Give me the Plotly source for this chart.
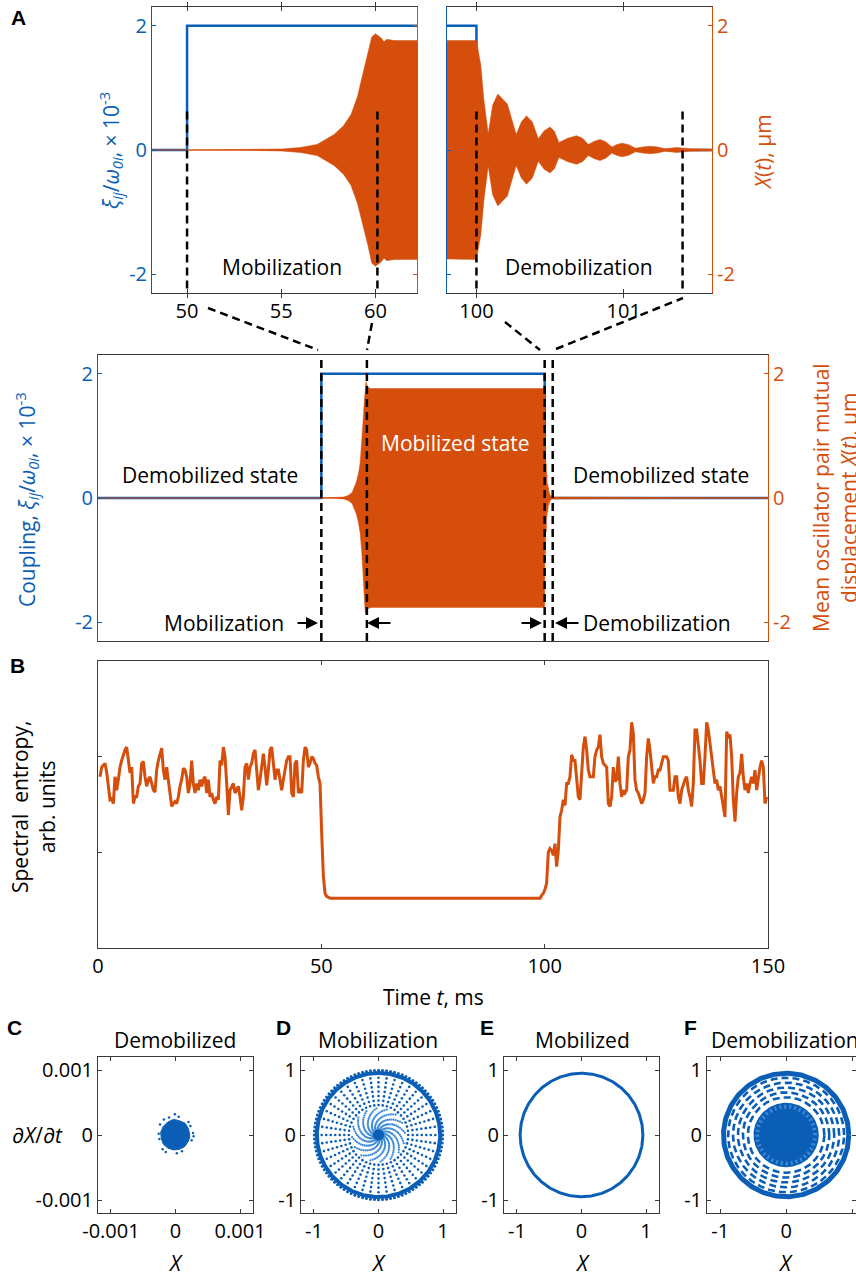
import numpy as np
import plotly.graph_objects as go

BLUE = "#0A5EB5"
LBLUE = "#3d8bd6"
ORANGE = "#D54E0B"
DARK = "#3a3a3a"
FONT = "Open Sans"

# ---------------- Panel A data ----------------
coupling_t = [0, 50, 50, 100, 100, 150]
coupling_v = [0, 0, 2, 2, 0, 0]

env_t = [50.0, 53.0, 55.0, 56.0, 56.9, 57.8, 58.3, 58.7, 59.05, 59.3, 59.6, 59.8, 60.0, 60.3, 60.45,
         60.6, 61.0,
         100.0, 100.03, 100.05, 100.08, 100.11, 100.145, 100.21, 100.27, 100.305, 100.34, 100.38,
         100.42, 100.46, 100.50, 100.53, 100.56, 100.62, 100.68, 100.72, 100.76, 100.80, 100.84,
         100.88, 100.92, 100.955, 100.99, 101.035, 101.08, 101.13, 101.18, 101.23, 101.28, 101.36,
         101.45, 101.6, 150.0]
env_a = [0.0, 0.004, 0.016, 0.04, 0.09, 0.25, 0.39, 0.57, 0.87, 1.19, 1.54, 1.82, 1.87, 1.80, 1.74,
         1.78, 1.76,
         1.76, 1.36, 0.82, 0.26, 0.72, 0.90, 0.74, 0.25, 0.45, 0.55, 0.45,
         0.18, 0.31, 0.37, 0.30, 0.12, 0.19, 0.23, 0.19, 0.09, 0.14, 0.17,
         0.13, 0.05, 0.09, 0.11, 0.085, 0.03, 0.05, 0.06, 0.05, 0.02, 0.04,
         0.02, 0.015, 0.0]

inset_dash_left = [50.0, 60.1]
inset_dash_right = [100.0, 101.4]
main_dash = [50.0, 60.2, 100.0, 101.8]

# ---------------- Panel B data ----------------
ent1_v = [1.79, 1.89, 1.91, 1.93, 1.84, 1.72, 1.55, 1.56, 1.51, 1.79, 1.65, 1.76, 1.89, 1.96, 2.03,
          2.07, 2.10, 1.96, 1.83, 1.89, 1.51, 1.58, 1.58, 1.69, 1.72, 1.93, 1.95, 1.79, 1.69, 1.76,
          1.79, 1.72, 1.65, 1.63, 1.86, 1.96, 2.03, 2.09, 1.86, 1.76, 1.89, 1.76, 1.58, 1.48, 1.51,
          1.53, 1.51, 1.58, 1.69, 1.76, 1.88, 1.86, 1.79, 1.62, 1.72, 1.96, 1.72, 1.62, 1.72, 1.65,
          1.76, 1.69, 1.76, 1.79, 1.62, 1.76, 1.58, 1.62, 1.55, 1.51, 1.58, 1.55, 1.96, 1.91, 2.10,
          2.00, 1.72, 1.39, 1.65, 1.69, 1.72, 1.62, 1.65, 1.69, 1.58, 1.44, 1.58, 1.89, 1.93, 1.76,
          1.89, 1.93, 2.03, 2.07, 1.86, 1.65, 1.76, 1.93, 2.03, 1.89, 1.70, 1.86, 2.07, 2.10, 1.89,
          1.76, 1.86, 1.86, 1.76, 1.65, 1.76, 1.86, 1.96, 2.00, 2.00, 1.62, 1.58, 1.93, 1.96, 1.62,
          1.65, 1.62, 1.96, 2.10, 2.07, 1.89, 1.93, 2.00, 1.98, 1.93, 1.91, 1.79, 1.72, 1.20, 0.75,
          0.57, 0.54]
ent1_t = np.linspace(0.45, 51.2, len(ent1_v))
ent_flat_t = [52.0, 99.3]
ent_flat_v = [0.52, 0.52]
ent3_v = [0.52, 0.55, 0.57, 0.61, 0.68, 1.00, 1.04, 1.02, 0.97, 1.09, 0.85, 1.02, 1.37, 1.44, 1.55,
          1.49, 1.72, 1.72, 1.79, 2.02, 1.96, 1.96, 1.76, 1.58, 1.55, 1.89, 2.10, 2.21, 2.07, 1.86,
          1.79, 1.79, 1.79, 2.00, 2.07, 2.10, 2.23, 2.00, 1.93, 1.91, 1.89, 1.51, 1.48, 1.58, 1.89,
          1.74, 1.76, 2.00, 1.72, 1.58, 1.65, 1.62, 1.65, 2.00, 2.07, 2.36, 2.24, 1.76, 1.65, 1.62,
          1.55, 1.51, 1.55, 1.62, 2.00, 2.19, 2.07, 1.89, 1.72, 1.79, 1.79, 1.86, 1.86, 1.93, 2.00,
          2.00, 2.00, 1.96, 1.65, 1.65, 1.65, 1.79, 1.79, 1.58, 1.51, 1.65, 1.72, 1.76, 1.79, 1.65,
          1.58, 1.48, 1.72, 2.28, 2.28, 2.14, 1.96, 1.72, 1.72, 2.00, 2.36, 2.28, 2.14, 1.96, 1.86,
          1.72, 1.76, 1.65, 1.69, 1.58, 1.51, 1.37, 2.26, 2.21, 2.23, 2.00, 1.55, 1.32, 1.62, 1.79,
          1.83, 2.03, 1.79, 1.65, 1.72, 1.62, 1.72, 1.79, 1.72, 1.86, 1.65, 1.79, 1.89, 1.96, 1.89,
          1.51, 1.58]
ent3_t = np.linspace(98.95, 149.7, len(ent3_v))
entropy_t = list(ent1_t) + ent_flat_t + list(ent3_t)
entropy_v = ent1_v + ent_flat_v + ent3_v

# ---------------- Panels C-F data ----------------
c_core_x = [0.22, 0.20, 0.15, 0.06, -0.03, -0.12, -0.19, -0.23, -0.22, -0.19, -0.12, -0.03, 0.06, 0.14, 0.19, 0.22]
c_core_y = [0.00, 0.10, 0.18, 0.22, 0.24, 0.20, 0.13, 0.04, -0.05, -0.14, -0.20, -0.23, -0.22, -0.18, -0.11, -0.04]
c_out_x = [-0.26, -0.25, 0.27, 0.25, -0.01, 0.05, -0.10, -0.20, -0.15, 0.10, 0.20, 0.23, -0.24, 0.02, 0.28, -0.18]
c_out_y = [0.02, -0.06, 0.03, -0.08, 0.32, 0.28, 0.27, -0.22, -0.26, -0.25, 0.20, 0.14, 0.16, -0.28, -0.02, 0.24]

d_spoke_count = 44
d_ring_radii = [0.46, 0.53, 0.60, 0.67, 0.74, 0.81, 0.88]
d_arm_count = 16
d_arm_radii = [0.07, 0.09, 0.11, 0.13, 0.15, 0.17, 0.19, 0.21, 0.23, 0.25, 0.27, 0.29, 0.31, 0.33, 0.35, 0.37, 0.39, 0.41]
d_twist = 4.0
d_core_r = 0.08
d_ring_r = 0.955
e_circle_r = 0.95
f_rings = [0.58, 0.655, 0.73, 0.805, 0.88]
f_core_r = 0.48
f_hatch_r = 0.44
f_outer_r = 0.95

def px(x):
    return x / 856.0

def py(y):
    return 1.0 - y / 1280.0

fig = go.Figure()
ang = np.linspace(0, 2 * np.pi, 361)

fx = env_t + env_t[::-1]
fy = env_a + [-a for a in env_a[::-1]]
for xa_, yb, yo in [("x", "y", "y2"), ("x2", "y3", "y4"), ("x3", "y5", "y6")]:
    fig.add_trace(go.Scatter(x=coupling_t, y=coupling_v, mode="lines", line=dict(color=BLUE, width=2.5), xaxis=xa_, yaxis=yb))
    fig.add_trace(go.Scatter(x=fx, y=fy, fill="toself", fillcolor=ORANGE, mode="lines", line=dict(color=ORANGE, width=0.5), xaxis=xa_, yaxis=yo))
    fig.add_trace(go.Scatter(x=[0, 150], y=[0, 0], mode="lines", line=dict(color=ORANGE, width=1), xaxis=xa_, yaxis=yo))

# ---- B
fig.add_trace(go.Scatter(x=entropy_t, y=entropy_v, mode="lines", line=dict(color=ORANGE, width=3), xaxis="x4", yaxis="y7"))

# ---- C
fig.add_trace(go.Scatter(x=[v * 1e-3 for v in c_core_x + c_core_x[:1]], y=[v * 1e-3 for v in c_core_y + c_core_y[:1]],
                         fill="toself", fillcolor=BLUE, mode="lines", line=dict(color=BLUE, width=1), xaxis="x5", yaxis="y8"))
fig.add_trace(go.Scatter(x=[v * 1e-3 for v in c_out_x], y=[v * 1e-3 for v in c_out_y], mode="markers",
                         marker=dict(color=BLUE, size=2.5), xaxis="x5", yaxis="y8"))

# ---- D: spokes of dots, inner swirl, centre and rim
dxs, dys = [], []
for i in range(d_spoke_count):
    th = 2 * np.pi * i / d_spoke_count
    for r in d_ring_radii:
        dxs.append(r * np.cos(th))
        dys.append(r * np.sin(th))
fig.add_trace(go.Scatter(x=dxs, y=dys, mode="markers", marker=dict(color=BLUE, size=2.6), xaxis="x6", yaxis="y9"))
sxs, sys_ = [], []
for i in range(d_arm_count):
    th0 = 2 * np.pi * i / d_arm_count
    for r in d_arm_radii:
        th = th0 + d_twist * (0.43 - r)
        sxs.append(r * np.cos(th))
        sys_.append(r * np.sin(th))
fig.add_trace(go.Scatter(x=sxs, y=sys_, mode="markers", marker=dict(color=LBLUE, size=2.3), xaxis="x6", yaxis="y9"))
fig.add_trace(go.Scatter(x=d_core_r * np.cos(ang), y=d_core_r * np.sin(ang), fill="toself", fillcolor=BLUE, mode="lines",
                         line=dict(color=BLUE, width=1), xaxis="x6", yaxis="y9"))
fig.add_trace(go.Scatter(x=d_ring_r * np.cos(ang), y=d_ring_r * np.sin(ang), mode="lines", line=dict(color=BLUE, width=4), xaxis="x6", yaxis="y9"))
tang = np.linspace(0, 2 * np.pi, 100, endpoint=False)
fig.add_trace(go.Scatter(x=0.995 * np.cos(tang), y=0.995 * np.sin(tang), mode="markers", marker=dict(color=BLUE, size=3), xaxis="x6", yaxis="y9"))

# ---- E circle
fig.add_trace(go.Scatter(x=e_circle_r * np.cos(ang), y=e_circle_r * np.sin(ang), mode="lines", line=dict(color=BLUE, width=3), xaxis="x7", yaxis="y10"))

# ---- F
fig.add_trace(go.Scatter(x=f_outer_r * np.cos(ang), y=f_outer_r * np.sin(ang), mode="lines", line=dict(color=BLUE, width=5), xaxis="x8", yaxis="y11"))
for r in f_rings:
    fig.add_trace(go.Scatter(x=r * np.cos(ang), y=r * np.sin(ang), mode="lines", line=dict(color=BLUE, width=2.6, dash="7px,4px"), xaxis="x8", yaxis="y11"))
fig.add_trace(go.Scatter(x=f_core_r * np.cos(ang), y=f_core_r * np.sin(ang), fill="toself", fillcolor=BLUE, mode="lines", line=dict(color=BLUE, width=2), xaxis="x8", yaxis="y11"))
fig.add_trace(go.Scatter(x=f_hatch_r * np.cos(ang), y=f_hatch_r * np.sin(ang), mode="lines", line=dict(color=LBLUE, width=4, dash="2px,3px"), xaxis="x8", yaxis="y11"))

# ---------------- axes ----------------
tf = dict(family=FONT, size=20, color="black")
tf_b = dict(family=FONT, size=20, color=BLUE)
tf_o = dict(family=FONT, size=20, color=ORANGE)
tf_s = dict(family=FONT, size=20, color="black")

def fmt(v):
    return ("%g" % v).replace("\u2212", "-")

def xax(domain, rng, anchor, tickvals=None, show=True, font=tf):
    d = dict(domain=domain, range=rng, anchor=anchor, showgrid=False, zeroline=False, showline=True,
             linecolor=DARK, linewidth=1, mirror="allticks", ticks="inside", ticklen=4, tickcolor=DARK,
             tickfont=font, fixedrange=True, automargin=False)
    if tickvals is None:
        d.update(ticks="", showticklabels=False, mirror=True)
    else:
        d.update(tickvals=tickvals, ticktext=[fmt(v) for v in tickvals], showticklabels=show)
    return d

def yax(domain, rng, anchor, tickvals, color, font, side="left", show=True, overlay=None, mirror=False):
    d = dict(domain=domain, range=rng, anchor=anchor, side=side, showgrid=False, zeroline=False,
             showline=True, linecolor=color, linewidth=1, mirror=mirror, ticks="inside", ticklen=4,
             tickcolor=color, tickvals=tickvals, ticktext=[fmt(v) for v in tickvals], showticklabels=show,
             tickfont=font, fixedrange=True, automargin=False)
    if overlay:
        d["overlaying"] = overlay
    return d

yr = [-2.3, 2.3]
insL_x = [px(152), px(417)]
insR_x = [px(447), px(712)]
ins_y = [py(293), py(7)]
mainA_y = [py(641), py(355)]
full_x = [px(98), px(768)]
B_y = [py(948), py(661)]
bot_y = [py(1213), py(1057)]

lay = dict(
    xaxis=xax(insL_x, [48.14, 62.2], "y", [50, 55, 60]),
    yaxis=yax(ins_y, yr, "x", [-2, 0, 2], BLUE, tf_b),
    yaxis2=yax(ins_y, yr, "x", [-2, 0, 2], ORANGE, tf_o, side="right", show=False, overlay="y"),
    xaxis2=xax(insR_x, [99.8, 101.6], "y3", [100, 101]),
    yaxis3=yax(ins_y, yr, "x2", [-2, 0, 2], BLUE, tf_b, show=False),
    yaxis4=yax(ins_y, yr, "x2", [-2, 0, 2], ORANGE, tf_o, side="right", overlay="y3"),
    xaxis3=xax(full_x, [0, 150], "y5"),
    yaxis5=yax(mainA_y, yr, "x3", [-2, 0, 2], BLUE, tf_b),
    yaxis6=yax(mainA_y, yr, "x3", [-2, 0, 2], ORANGE, tf_o, side="right", overlay="y5"),
    xaxis4=xax(full_x, [0, 150], "y7", [0, 50, 100, 150]),
    yaxis7=yax(B_y, [0, 3], "x4", [1, 2], DARK, tf, show=False, mirror="allticks"),
)
bot_x = [[98, 253], [301, 456], [504, 659], [707, 856]]
ranges_x = [[-0.0012, 0.0012], [-1.2, 1.2], [-1.2, 1.2], [-1.2, 1.06]]
ranges_y = [[-0.0012, 0.0012], [-1.2, 1.2], [-1.2, 1.2], [-1.2, 1.2]]
for k in range(4):
    xi = 5 + k
    yi = 8 + k
    if k == 0:
        tv = [-0.001, 0, 0.001]
        tt = ["-0.001", "0", "0.001"]
    else:
        tv = [-1, 0, 1]
        tt = ["-1", "0", "1"]
    xa = xax([px(bot_x[k][0]), px(bot_x[k][1])], ranges_x[k], "y%d" % yi, tv, font=tf_s)
    xa.update(ticktext=tt)
    ya = yax(bot_y, ranges_y[k], "x%d" % xi, tv, DARK, tf_s, mirror="allticks")
    ya.update(ticktext=tt)
    lay["xaxis%d" % xi] = xa
    lay["yaxis%d" % yi] = ya

fig.update_layout(**lay)

# ---------------- shapes ----------------
shapes = []
DASH = "8px,5px"
for xv in inset_dash_left:
    shapes.append(dict(type="line", xref="x", yref="y", x0=xv, x1=xv, y0=0.62, y1=-2.3, line=dict(color="black", width=2.5, dash=DASH)))
for xv in inset_dash_right:
    shapes.append(dict(type="line", xref="x2", yref="y3", x0=xv, x1=xv, y0=0.62, y1=-2.3, line=dict(color="black", width=2.5, dash=DASH)))
for xv in main_dash:
    shapes.append(dict(type="line", xref="x3", yref="y5 domain", x0=xv, x1=xv, y0=0, y1=1, line=dict(color="black", width=2.5, dash=DASH)))
for (x0, y0, x1, y1) in [(208, 308, 318, 350), (372, 323, 367, 350), (505, 322, 540, 350), (556, 349, 683, 298)]:
    shapes.append(dict(type="line", xref="paper", yref="paper", x0=px(x0), y0=py(y0), x1=px(x1), y1=py(y1), line=dict(color="black", width=2.5, dash=DASH)))
fig.update_layout(shapes=shapes)

# ---------------- annotations ----------------
ann = []
def txt(x, y, s, size=21, color="black", angle=0, bold=False, family=FONT):
    ann.append(dict(xref="paper", yref="paper", x=px(x), y=py(y), text=("<b>%s</b>" % s) if bold else s,
                    showarrow=False, textangle=angle, xanchor="center", yanchor="middle",
                    font=dict(family=family, size=size, color=color)))

for lab, x, y in [("A", 18, 17), ("B", 17, 665), ("C", 15, 1027), ("D", 283, 1027), ("E", 487, 1027), ("F", 690, 1027)]:
    txt(x, y, lab, size=21, bold=True, family="Liberation Sans")

xi_lab = "<i>ξ<sub>ij</sub></i>/<i>ω<sub>0i</sub></i>, × 10<sup>-3</sup>"
txt(110, 150, xi_lab, color=BLUE, angle=-90)
txt(763, 152, "<i>X</i>(<i>t</i>), μm", color=ORANGE, angle=-90)
txt(26, 500, "Coupling, " + xi_lab, color=BLUE, angle=-90)
txt(821, 498, "Mean oscillator pair mutual", color=ORANGE, angle=-90)
txt(849, 498, "displacement <i>X</i>(<i>t</i>), μm", color=ORANGE, angle=-90)
txt(282, 267, "Mobilization")
txt(579, 267, "Demobilization")
txt(210, 475, "Demobilized state")
txt(661, 475, "Demobilized state")
txt(455, 443, "Mobilized state", color="white")
txt(224, 623, "Mobilization")
txt(657, 623, "Demobilization")
txt(33, 807, "Spectral  entropy,<br>arb. units", angle=-90)
txt(433, 997, "Time <i>t</i>, ms")
for name, x in [("Demobilized", 175), ("Mobilization", 378), ("Mobilized", 582), ("Demobilization", 785)]:
    txt(x, 1040, name)
    txt(x, 1263, "<i>X</i>")
txt(37, 1135, "<i>∂X</i>/<i>∂t</i>")

for (xh, xt) in [(318, 296), (367, 392), (542, 520), (555, 580)]:
    ann.append(dict(xref="paper", yref="paper", x=px(xh), y=py(623), ax=xt - xh, ay=0, axref="pixel", ayref="pixel",
                    text="", showarrow=True, arrowhead=2, arrowsize=1.2, arrowwidth=2, arrowcolor="black"))
fig.update_layout(annotations=ann)

fig.update_layout(width=856, height=1280, margin=dict(l=0, r=0, t=0, b=0, autoexpand=False), showlegend=False,
                  plot_bgcolor="white", paper_bgcolor="white")
fig.write_html("out.html", config={"displayModeBar": False},
               post_script="document.body.style.margin='0';document.body.style.padding='0';document.body.style.overflow='hidden';")
